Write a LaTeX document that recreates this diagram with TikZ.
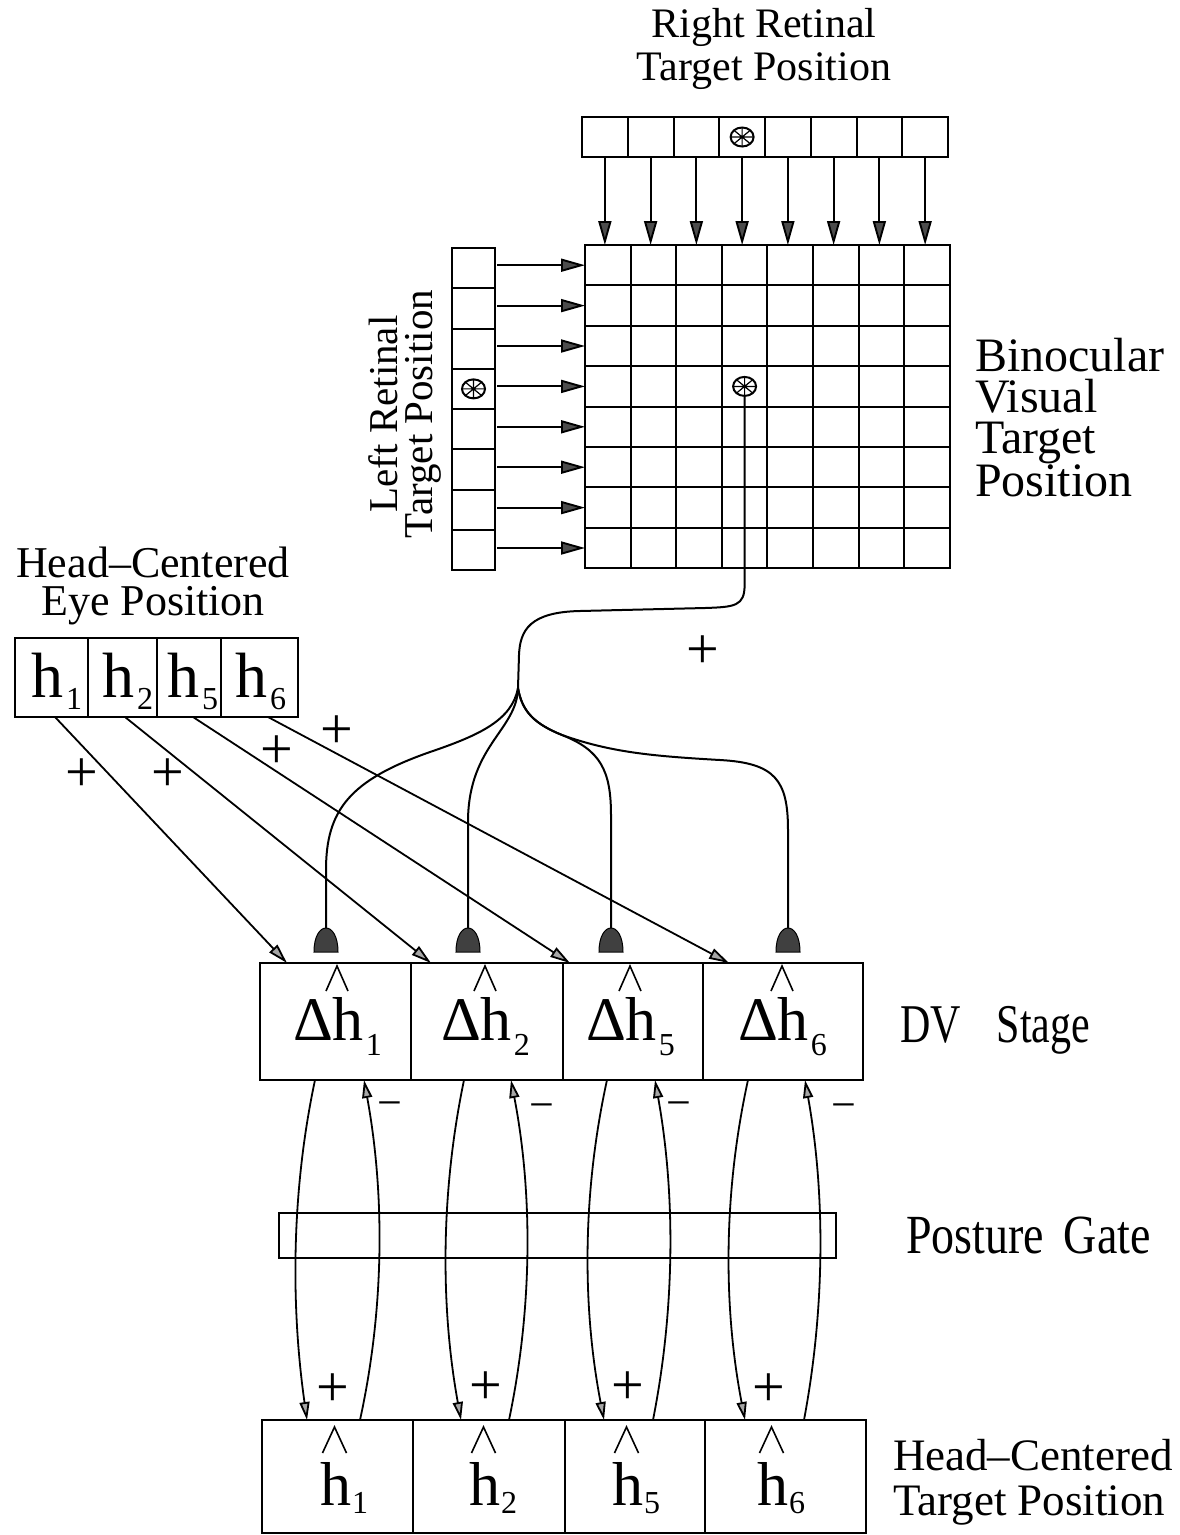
\documentclass[tikz,border=0pt]{standalone}
\usepackage{fontspec}
\usepackage{graphicx}
\setmainfont{Liberation Serif}
\usetikzlibrary{arrows.meta,shapes.geometric,calc}
\newcommand\fsz[1]{\fontsize{#1}{#1}\selectfont}
\newcommand\fszb[2]{\fontsize{#1}{#2}\selectfont}
\begin{document}
\begin{tikzpicture}[x=1pt,y=-1pt,
  cell/.style={draw,line width=2pt,inner sep=0pt,outer sep=0pt,rectangle},
  wire/.style={line width=2pt},
  retarr/.style={line width=1.9pt,-{Triangle[length=24pt,width=13pt,fill=black!70]}},
  greyarr/.style={line width=1.8pt,-{Triangle[length=20pt,width=11pt,fill=black!35]}},
  looparr/.style={line width=1.8pt,-{Triangle[length=18pt,width=10pt,fill=black!35]}},
  hatline/.style={line width=1.6pt,line join=miter},
  bumpfill/.style={fill=black!75,draw=black,line width=1pt},
  lbl/.style={inner sep=0pt,outer sep=0pt},
  xcirc/.style={ellipse,draw,line width=2pt,minimum width=23pt,minimum height=19pt,inner sep=0pt,fill=white,
    path picture={\draw[line width=1.2pt]
      (path picture bounding box.north west) -- (path picture bounding box.south east)
      (path picture bounding box.north east) -- (path picture bounding box.south west)
      (path picture bounding box.north) -- (path picture bounding box.south)
      (path picture bounding box.west) -- (path picture bounding box.east);}},
]
\useasboundingbox (0,0) rectangle (1180,1535);

% ---------- labels ----------
\node[lbl,font=\fszb{42}{43},align=center,anchor=north] (rrt) at (764,8) {Right Retinal\\Target Position};
\node[lbl,font=\fszb{41}{35},align=center,rotate=90,anchor=north] (lrt) at (369,414) {Left Retinal\\Target Position};
\node[lbl,font=\fszb{48}{41},align=left,anchor=north west] (bvt) at (975,338) {Binocular\\Visual\\Target\\Position};
\node[lbl,font=\fszb{44}{38},align=center,anchor=north] (hce) at (153,547) {Head–Centered\\Eye Position};
\node[lbl,anchor=base west] (dvs) at (900,1042) {\scalebox{1}[1.3]{\fsz{42}DV\hspace{36pt}Stage}};
\node[lbl,anchor=base west] (pg) at (906,1253) {\scalebox{1}[1.2]{\fsz{46}Posture\hspace{20pt}Gate}};
\node[lbl,font=\fszb{45}{45},align=left,anchor=north west] (hct) at (893,1439) {Head–Centered\\Target Position};

% ---------- right retinal vector ----------
\foreach \i in {1,...,8}
  \node[cell,minimum width=45.75pt,minimum height=40pt] (r\i) at ({582+45.75*(\i-0.5)},137) {};
% ---------- binocular grid ----------
\foreach \r in {1,...,8}
  \foreach \c in {1,...,8}
    \node[cell,minimum width=45.6pt,minimum height=40.4pt] (g-\r-\c) at ({585+45.6*(\c-0.5)},{245+40.4*(\r-0.5)}) {};
% ---------- left retinal vector ----------
\foreach \j in {1,...,8}
  \node[cell,minimum width=43pt,minimum height=40.25pt] (l\j) at (473.5,{248+40.25*(\j-0.5)}) {};

\node[xcirc] (rx) at (r4) {};
\node[xcirc] (lx) at (l4) {};
\node[xcirc] (gx) at (g-4-4) {};

\foreach \i in {1,...,8}
  \draw[retarr] (r\i.south) -- (r\i.south |- g-1-\i.north);
\foreach \j in {1,...,8}
  \draw[retarr,shorten <=2pt] (l\j.east |- g-\j-1.west) -- (g-\j-1.west);

% ---------- eye position vector ----------
\node[cell,minimum width=73pt,minimum height=79pt] (e1) at (51.5,677.5) {};
\node[cell,minimum width=69pt,minimum height=79pt] (e2) at (122.5,677.5) {};
\node[cell,minimum width=64pt,minimum height=79pt] (e3) at (189,677.5) {};
\node[cell,minimum width=77pt,minimum height=79pt] (e4) at (259.5,677.5) {};
\foreach \k/\hx/\sub in {1/32/1,2/103/2,3/168/5,4/236/6}
  \node[lbl,anchor=base west,font=\fsz{64}] (et\k) at (\hx-1,697) {h\hspace{3pt}\raisebox{-12pt}{\fsz{32}\sub}};

% ---------- DV stage ----------
\node[cell,minimum width=151pt,minimum height=117pt] (dv1) at (335.5,1021.5) {};
\node[cell,minimum width=152pt,minimum height=117pt] (dv2) at (487,1021.5) {};
\node[cell,minimum width=140pt,minimum height=117pt] (dv3) at (633,1021.5) {};
\node[cell,minimum width=160pt,minimum height=117pt] (dv4) at (783,1021.5) {};
\foreach \k/\dx/\sub in {1/293/1,2/441/2,3/586/5,4/738/6}{
  \node[lbl,anchor=base west,font=\fsz{62}] (dvt\k) at (\dx,1040) {Δh\hspace{2pt}\raisebox{-15pt}{\fsz{32}\sub}};
  \draw[hatline] (\dx+33,991) -- (\dx+44,966) -- (\dx+55,991);
}

% ---------- posture gate ----------
\node[cell,minimum width=557pt,minimum height=45pt] (gate) at (557.5,1235.5) {};

% ---------- head-centered target position ----------
\node[cell,minimum width=151pt,minimum height=113pt] (bt1) at (337.5,1476.5) {};
\node[cell,minimum width=152pt,minimum height=113pt] (bt2) at (489,1476.5) {};
\node[cell,minimum width=140pt,minimum height=113pt] (bt3) at (635,1476.5) {};
\node[cell,minimum width=161pt,minimum height=113pt] (bt4) at (785.5,1476.5) {};
\foreach \k/\hx/\sub in {1/321/1,2/470/2,3/613/5,4/758/6}{
  \node[lbl,anchor=base west,font=\fsz{62}] (btt\k) at (\hx-1,1505) {h\hspace{1pt}\raisebox{-8pt}{\fsz{32}\sub}};
  \draw[hatline] (\hx+1.5,1453) -- (\hx+13.5,1427) -- (\hx+25.5,1453);
}

% ---------- bumps (terminals) ----------
\foreach \k/\bx in {1/326,2/468,3/611,4/788}{
  \coordinate (b\k) at (\bx,928);
  \filldraw[bumpfill] ($(b\k)+(-12,24)$) .. controls +(0,-32) and +(0,-32) .. ($(b\k)+(12,24)$) -- cycle;
}

% ---------- wire from binocular map ----------
\coordinate (j) at (518,688);
\draw[wire] (gx.south) -- (744.6,585) .. controls (744.6,606) and (735,607) .. (705,608)
  -- (580,611) .. controls (530,612) and (520,630) .. (519,655) -- (j);
\draw[wire] (j) .. controls (512,720) and (480,735) .. (430,752) .. controls (350,780) and (326,810) .. (326,870) -- (b1);
\draw[wire] (j) .. controls (517,730) and (469,745) .. (468,820) -- (b2);
\draw[wire] (j) .. controls (522,712) and (535,724) .. (562,735) .. controls (600,750) and (611,770) .. (611,815) -- (b3);
\draw[wire] (j) .. controls (522,712) and (535,724) .. (562,735) .. controls (610,752) and (650,756) .. (720,760)
  .. controls (775,763) and (788,780) .. (788,830) -- (b4);

% ---------- eye position to DV ----------
\foreach \k/\a/\b in {1/3.5/27,2/2.5/20,3/4/7,4/8.5/26}
  \draw[greyarr] ($(e\k.south)+(\a,0)$) -- ($(dv\k.north west)+(\b,0)$);

% ---------- DV <-> target loops ----------
\foreach \k/\a/\m/\b/\c/\n/\d in {1/55/291/45/98/384.7/104,2/53/440.5/48/96/532.7/100,3/44/582.2/39/88/675.3/92,4/45/723.2/40/99/825.2/102}{
  \draw[looparr] ($(dv\k.south west)+(\a,0)$) .. controls (\m,1193) and (\m,1307) .. ($(bt\k.north west)+(\b,0)$);
  \draw[looparr] ($(bt\k.north west)+(\c,0)$) .. controls (\n,1307) and (\n,1193) .. ($(dv\k.south west)+(\d,0)$);
}

% ---------- signs ----------
\foreach \k/\x/\y in {1/82/775,2/168/775,3/277/752,4/337/732,5/703/652,6/333/1390,7/486/1388,8/628/1388,9/769/1390}
  \node[lbl,font=\fsz{58}] (p\k) at (\x,\y) {+};
\foreach \k/\x/\y in {1/390/1110,2/542/1112,3/679/1110,4/844/1112}
  \node[lbl,font=\fsz{44}] (m\k) at (\x,\y) {−};
\end{tikzpicture}
\end{document}
